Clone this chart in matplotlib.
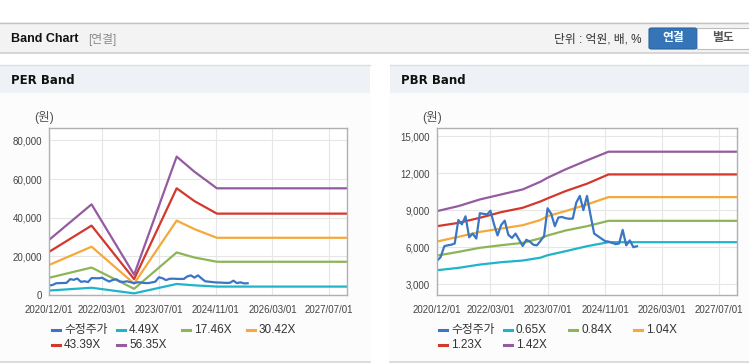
import matplotlib
matplotlib.use('Agg')
import matplotlib.pyplot as plt
import pandas as pd
from matplotlib.patches import Rectangle, FancyBboxPatch
from matplotlib.lines import Line2D

plt.rcParams['font.family'] = ['Liberation Sans', 'Noto Sans CJK KR', 'DejaVu Sans']

W, H = 749, 364

# ---------------- data ----------------
price_label = '수정주가'
price_dates = pd.date_range('2020-12-01', periods=57, freq='MS')
price = [4900, 5200, 6080, 6150, 6200, 6300, 8200, 7850, 8500, 6800,
         7100, 6700, 8750, 8700, 8650, 8950, 7850, 6950, 7800, 8150,
         7000, 6750, 7100, 6600, 6100, 6600, 6450, 6200, 6150, 6500,
         6900, 9150, 8700, 7700, 8400, 8450, 8350, 8300, 8320, 9600,
         10150, 9000, 10150, 8600, 7100, 6900, 6700, 6500, 6450, 6350,
         6250, 6300, 7400, 6150, 6550, 6000, 6080]

per_dates = pd.to_datetime(['2020-12-01', '2021-12-01', '2022-12-01', '2023-12-01',
                            '2024-05-01', '2024-11-10', '2027-12-01'])
per_labels = ['4.49X', '17.46X', '30.42X', '43.39X', '56.35X']
per_449 = [2300, 3750, 850, 5700, 5000, 4350, 4350]
per_1746 = [8900, 14200, 3200, 22000, 19400, 17200, 17200]
per_3042 = [15500, 25000, 5900, 38500, 34100, 29600, 29600]
per_4339 = [22300, 35900, 8200, 55200, 48600, 42100, 42100]
per_5635 = [28500, 46900, 10500, 71600, 63800, 55200, 55200]

pbr_dates = pd.to_datetime(['2020-12-01', '2021-06-01', '2021-12-01', '2022-06-01',
                            '2022-12-01', '2023-05-01', '2023-07-01', '2023-12-01',
                            '2024-06-01', '2024-12-01', '2027-12-01'])
pbr_labels = ['0.65X', '0.84X', '1.04X', '1.23X', '1.42X']
pbr_065 = [4135, 4325, 4595, 4785, 4920, 5150, 5350, 5675, 6080, 6405, 6405]
pbr_084 = [5320, 5620, 5950, 6160, 6350, 6720, 6945, 7350, 7700, 8135, 8135]
pbr_104 = [6460, 6840, 7240, 7510, 7780, 8200, 8515, 8920, 9460, 10055, 10055]
pbr_123 = [7700, 7970, 8380, 8840, 9190, 9700, 9950, 10540, 11140, 11890, 11890]
pbr_142 = [8920, 9325, 9865, 10270, 10676, 11300, 11620, 12300, 13030, 13730, 13730]

x_ticks = ['2020-12-01', '2022-03-01', '2023-07-01', '2024-11-01', '2026-03-01', '2027-07-01']
x_tick_labels = ['2020/12/01', '2022/03/01', '2023/07/01', '2024/11/01', '2026/03/01', '2027/07/01']
per_yticks = [0, 20000, 40000, 60000, 80000]
pbr_yticks = [3000, 6000, 9000, 12000, 15000]

price_color = '#3a76c4'
band_colors = ['#1fb4c8', '#8db457', '#f5a93b', '#d2382c', '#955ba0']

# ---------------- figure ----------------
fig = plt.figure(figsize=(W / 100, H / 100), dpi=100)
fig.patch.set_facecolor('white')


def fx(x):
    return x / W


def fy(y):
    return 1 - y / H


def rect(x0, y0, x1, y1, **kw):
    fig.add_artist(Rectangle((fx(x0), fy(y1)), fx(x1) - fx(x0), fy(y0) - fy(y1),
                             transform=fig.transFigure, zorder=-2, **kw))


def hline(x0, x1, y, color, lw=1):
    fig.add_artist(Line2D([fx(x0), fx(x1)], [fy(y), fy(y)], transform=fig.transFigure,
                          color=color, lw=lw, zorder=-1))


# top header
rect(0, 22, W, 53, facecolor='#f3f3f3', edgecolor='none')
hline(0, W, 22.5, '#c4c4c4', 1)
hline(0, W, 53, '#cfcfcf', 1.2)
fig.text(fx(11), fy(39), 'Band Chart', fontsize=9, fontweight='bold', color='#111111',
         va='center', ha='left')
fig.text(fx(88), fy(39), '[연결]', fontsize=8.5, color='#8a8a8a', va='center', ha='left')
fig.text(fx(641), fy(39), '단위 : 억원, 배, %', fontsize=8.5, color='#333333', va='center', ha='right')
fig.add_artist(FancyBboxPatch((fx(649), fy(49)), fx(697) - fx(649), fy(28) - fy(49),
                              boxstyle='round,pad=0,rounding_size=0.004',
                              transform=fig.transFigure, facecolor='#3574b7',
                              edgecolor='#2b63a0', lw=0.8))
fig.text(fx(673), fy(38.5), '연결', fontsize=8.5, fontweight='bold', color='white',
         va='center', ha='center')
fig.add_artist(Rectangle((fx(697), fy(49)), fx(752) - fx(697), fy(28) - fy(49),
                         transform=fig.transFigure, facecolor='white',
                         edgecolor='#bdbdbd', lw=0.8))
fig.text(fx(723), fy(38.5), '별도', fontsize=8.5, fontweight='bold', color='#555555',
         va='center', ha='center')

# panels
for (x0, x1, title) in [(0, 370, 'PER Band'), (390, W, 'PBR Band')]:
    rect(x0, 65, x1, 361, facecolor='#fcfcfc', edgecolor='none')
    rect(x0, 65, x1, 93, facecolor='#eef2f7', edgecolor='none')
    hline(x0, x1, 64.5, '#dddddd', 1)
    hline(x0, x1, 361.5, '#d6d6d6', 1.2)
    fig.text(fx(x0 + 11), fy(80), title, fontsize=8.5, fontweight='bold',
             family='DejaVu Sans', color='#111111', va='center', ha='left')


def make_axes(x0, x1, dates, bands, labels, yticks, ylim, unit_x, leg_x):
    ax = fig.add_axes([fx(x0), fy(295), fx(x1) - fx(x0), fy(128) - fy(295)])
    ax.set_zorder(5)
    ax.set_facecolor('white')
    for vals, c in zip(bands, band_colors):
        ax.plot(dates, vals, color=c, lw=1.6, solid_joinstyle='round')
    ax.plot(price_dates, price, color=price_color, lw=1.6, solid_joinstyle='round')
    ax.set_xlim(pd.Timestamp('2020-12-01'), pd.Timestamp('2027-12-01'))
    ax.set_ylim(*ylim)
    ax.set_xticks(pd.to_datetime(x_ticks))
    ax.set_xticklabels(x_tick_labels)
    ax.set_yticks(yticks)
    ax.set_yticklabels([f'{v:,}' for v in yticks])
    ax.tick_params(axis='x', length=0, pad=7, labelsize=7, labelcolor='#444444')
    ax.tick_params(axis='y', length=0, pad=5, labelsize=7, labelcolor='#444444')
    ax.grid(True, color='#e6e6e6', lw=0.8)
    ax.set_axisbelow(True)
    for s in ax.spines.values():
        s.set_color('#b0b0b0')
        s.set_linewidth(1)
    fig.text(fx(unit_x), fy(118), '(원)', fontsize=9, color='#555555', va='center', ha='center')
    # legend
    names = [price_label] + labels
    cols = [price_color] + band_colors
    for i, (n, c) in enumerate(zip(names, cols)):
        r, k = divmod(i, 4)
        lx = leg_x + k * 65
        ly = 330 + r * 15
        fig.add_artist(Line2D([fx(lx), fx(lx + 8)], [fy(ly), fy(ly)],
                              transform=fig.transFigure, color=c, lw=2.2))
        fig.text(fx(lx + 12), fy(ly), n, fontsize=8.5, color='#333333', va='center', ha='left')
    return ax


make_axes(49, 347, per_dates, [per_449, per_1746, per_3042, per_4339, per_5635],
          per_labels, per_yticks, (0, 86400), 44, 52)
make_axes(437, 737, pbr_dates, [pbr_065, pbr_084, pbr_104, pbr_123, pbr_142],
          pbr_labels, pbr_yticks, (2130, 15650), 432, 439)

fig.savefig('out.png', dpi=100, facecolor='white')
